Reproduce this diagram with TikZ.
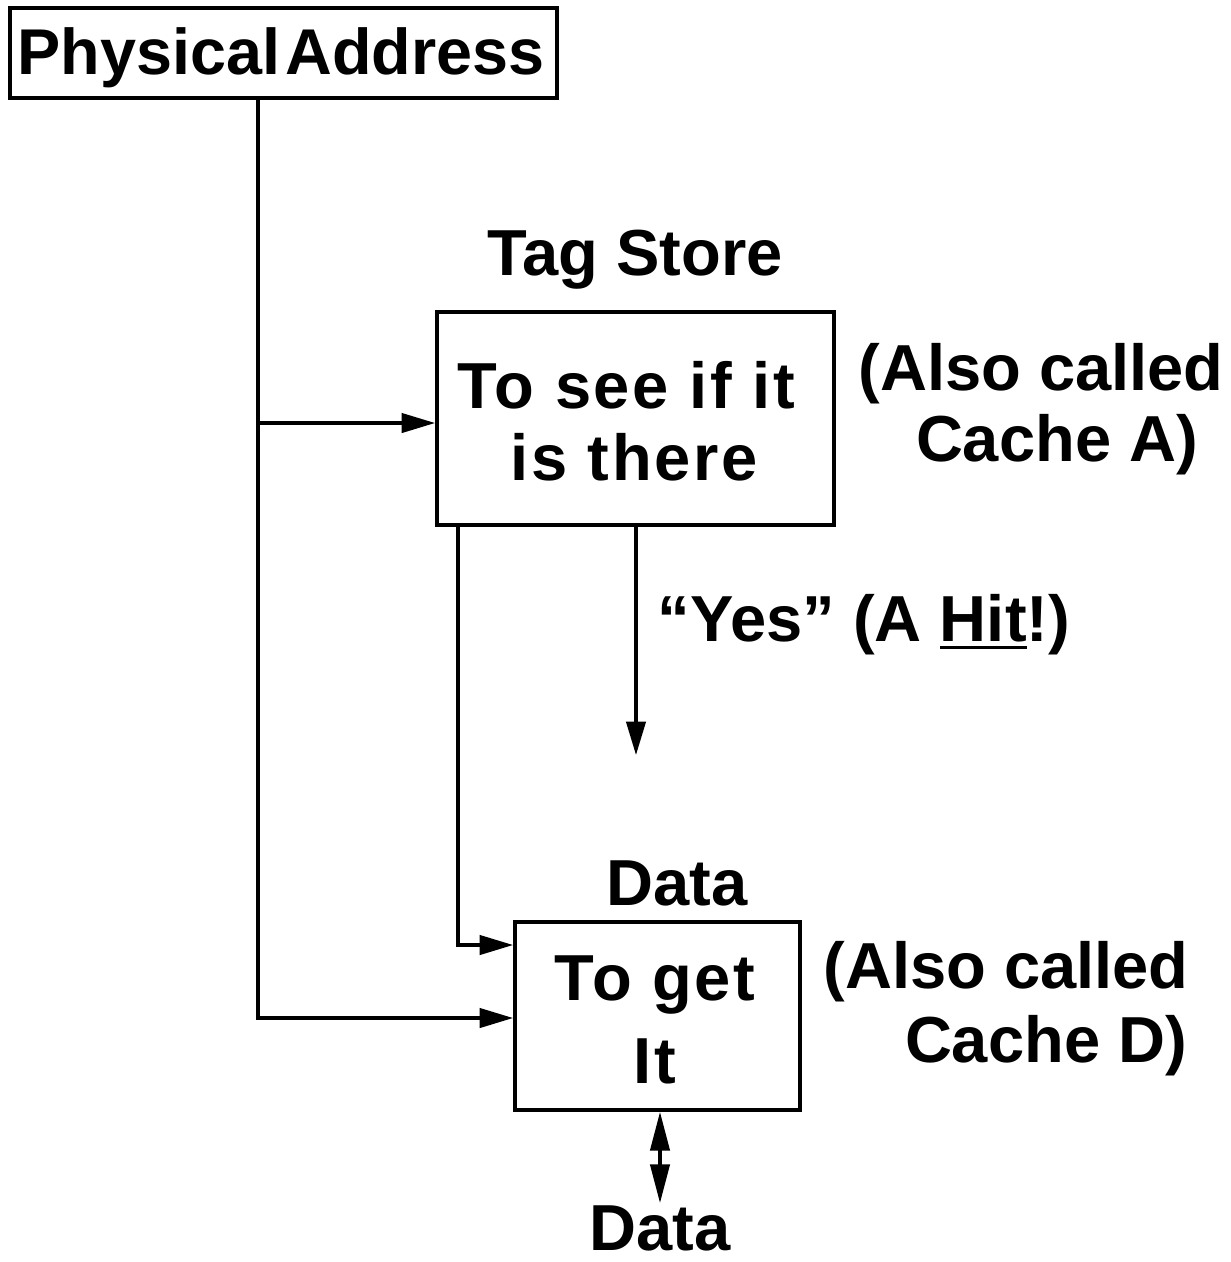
\documentclass[tikz,border=0pt]{standalone}
\usepackage{fontspec}
\setmainfont{Liberation Sans}
\newfontfamily\spacedfont[LetterSpace=4]{Liberation Sans}
\usetikzlibrary{arrows.meta}
\newcommand\hitul[1]{\setbox0\hbox{#1}\rlap{\rule[-0.13em]{\wd0}{0.055em}}\box0}
\tikzset{
  lbl/.style={font=\fontsize{18.5pt}{20pt}\selectfont\bfseries, inner sep=0pt, anchor=base},
  inlbl/.style={font=\spacedfont\fontsize{18.5pt}{20pt}\selectfont\bfseries, inner sep=0pt, anchor=base},
  boxx/.style={draw, line width=1.1pt, inner sep=0pt},
  conn/.style={line width=0.9pt},
  tip/.style={-{Triangle[length=9.5pt,width=5.5pt]}},
}
\begin{document}
\begin{tikzpicture}[x=0.01cm,y=-0.01cm]
\useasboundingbox (0,0) rectangle (1231,1262);
% boxes
\node[boxx, minimum width=547*0.01cm, minimum height=90*0.01cm] (pa) at (283.5,53) {};
\node[boxx, minimum width=397*0.01cm, minimum height=213*0.01cm] (ts) at (635.5,418.5) {};
\node[boxx, minimum width=285*0.01cm, minimum height=188*0.01cm] (db) at (657.5,1016) {};
% texts
\node[lbl, font=\fontsize{18.4pt}{20pt}\selectfont\bfseries] (patext) at (281,74) {Physical\hspace{-0.2em} Address};
\node[lbl] (tstitle) at (635,275) {Tag Store};
\node[inlbl] (ts1) at (626,408) {To see if it};
\node[inlbl] (ts2) at (634,480) {is there};
\node[lbl] (a1) at (1041,390) {(Also called};
\node[lbl] (a2) at (1057,461) {Cache A)};
\node[lbl] (yes) at (864,641) {“Yes” (A \hitul{Hit}!)};
\node[lbl] (dtitle) at (677,905) {Data};
\node[inlbl] (d1) at (655,1000) {To get};
\node[inlbl] (d2) at (655,1083) {It};
\node[lbl] (c1) at (1006,988) {(Also called};
\node[lbl] (c2) at (1046,1062) {Cache D)};
\node[lbl] (dout) at (660,1250) {Data};
% connector coordinates
\coordinate (trunk) at (258,1018);
\coordinate (br) at (258,423);
\coordinate (tsl) at (458,945);
\coordinate (yesend) at (636,755);
\coordinate (dend) at (660,1203);
% connectors
\draw[conn, tip] (pa.south -| trunk) -- (trunk) -- (trunk -| db.west);
\draw[conn, tip] (br) -- (br -| ts.west);
\draw[conn, tip] (ts.south -| tsl) -- (tsl) -- (tsl -| db.west);
\draw[conn, tip] (ts.south -| yesend) -- (yesend);
\draw[conn, {Triangle[length=11pt,width=5.5pt]}-{Triangle[length=11pt,width=5.5pt]}] (db.south -| dend) -- (dend);
\end{tikzpicture}
\end{document}
